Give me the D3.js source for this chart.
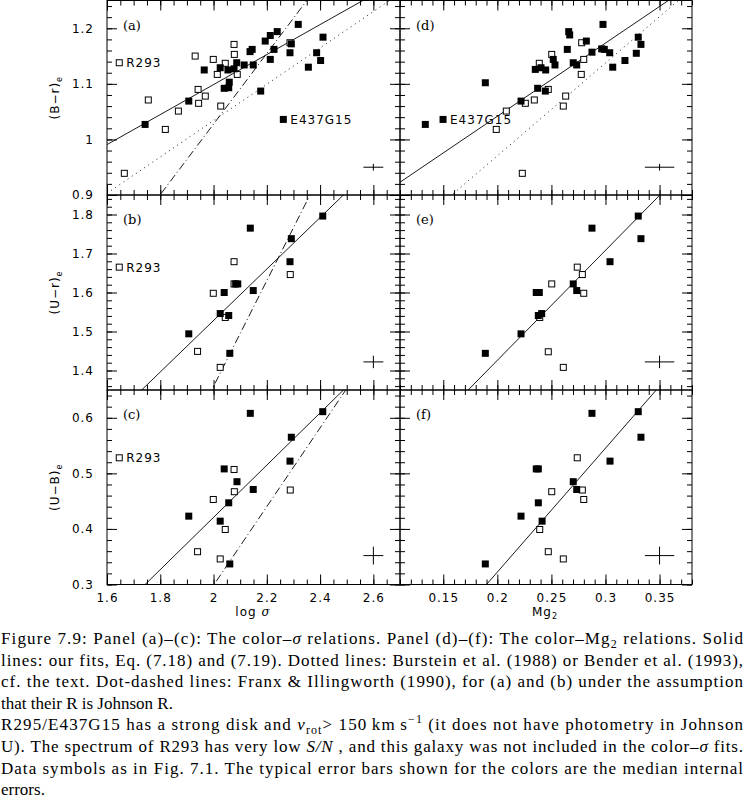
<!DOCTYPE html>
<html>
<head>
<script src="https://d3js.org/d3.v7.min.js"></script>
<style>
  body { margin: 0; background: #fff; }
  svg { display: block; }
  .tick text, .lbl { font-family: "DejaVu Sans", sans-serif; font-size: 12px; letter-spacing: 1px; fill: #000; }
  .tag { font-family: "DejaVu Serif", serif; font-size: 13px; }
  .caption { font-family: "Liberation Serif", serif; font-size: 17px; fill: #000; }
</style>
</head>
<body>
<svg width="745" height="805"></svg>
<script>
// ---- data ----
// panel (a): (B-r)e vs log sigma
var aFilled = [[1.743,1.027],[1.907,1.069],[1.965,1.125],[2.025,1.129],[2.040,1.092],[2.057,1.093],[2.059,1.103],
  [2.054,1.125],[2.077,1.127],[2.087,1.138],[2.115,1.134],[2.137,1.158],[2.145,1.162],[2.149,1.134],[2.177,1.087],
  [2.194,1.177],[2.213,1.187],[2.213,1.144],[2.227,1.162],[2.239,1.194],[2.287,1.156],[2.292,1.172],[2.318,1.207],
  [2.356,1.130],[2.387,1.156],[2.402,1.142],[2.411,1.184],[2.262,1.036]];
var aOpen = [[1.646,1.138],[1.665,0.939],[1.755,1.071],[1.819,1.018],[1.868,1.051],[1.931,1.150],[1.942,1.090],
  [1.944,1.065],[1.969,1.078],[1.999,1.144],[2.014,1.117],[2.027,1.060],[2.044,1.137],[2.077,1.171],[2.078,1.153],
  [2.089,1.117],[2.287,1.174]];
// panel (b): (U-r)e vs log sigma
var bFilled = [[1.907,1.494],[2.025,1.546],[2.040,1.600],[2.057,1.541],[2.061,1.444],[2.083,1.622],[2.091,1.622],
  [2.138,1.765],[2.149,1.605],[2.287,1.679],[2.292,1.738],[2.410,1.796]];
var bOpen = [[1.646,1.665],[1.940,1.449],[1.999,1.598],[2.025,1.408],[2.044,1.536],[2.077,1.679],[2.077,1.622],[2.288,1.646]];
// panel (c): (U-B)e vs log sigma
var cFilled = [[1.907,0.423],[2.025,0.414],[2.040,0.508],[2.057,0.447],[2.061,0.337],[2.088,0.485],[2.138,0.608],
  [2.149,0.471],[2.287,0.522],[2.292,0.565],[2.410,0.611]];
var cOpen = [[1.646,0.528],[1.940,0.359],[1.999,0.453],[2.025,0.346],[2.044,0.399],[2.077,0.507],[2.078,0.467],[2.288,0.470]];
// panel (d): (B-r)e vs Mg2
var dFilled = [[0.1334,1.027],[0.1498,1.036],[0.1889,1.102],[0.2219,1.069],[0.2351,1.126],[0.2373,1.092],[0.2404,1.129],
  [0.2444,1.087],[0.2447,1.125],[0.2517,1.144],[0.2533,1.134],[0.2647,1.162],[0.2660,1.194],[0.2669,1.188],[0.2702,1.138],
  [0.2734,1.134],[0.2823,1.177],[0.2875,1.157],[0.2965,1.163],[0.2977,1.207],[0.2989,1.162],[0.3039,1.156],[0.3067,1.130],
  [0.3180,1.142],[0.3285,1.155],[0.3303,1.184],[0.3328,1.171]];
var dOpen = [[0.1990,1.018],[0.2083,1.051],[0.2231,0.939],[0.2259,1.065],[0.2342,1.071],[0.2388,1.137],[0.2471,1.090],
  [0.2503,1.153],[0.2610,1.060],[0.2632,1.078],[0.2776,1.117],[0.2780,1.174],[0.2799,1.144]];
// panel (e): (U-r)e vs Mg2
var eFilled = [[0.1889,1.444],[0.2219,1.494],[0.2360,1.600],[0.2388,1.600],[0.2379,1.541],[0.2410,1.546],[0.2702,1.622],
  [0.2734,1.605],[0.2875,1.765],[0.3042,1.679],[0.3303,1.796],[0.3328,1.738]];
var eOpen = [[0.2392,1.536],[0.2471,1.448],[0.2503,1.622],[0.2610,1.408],[0.2739,1.665],[0.2786,1.646],[0.2799,1.598]];
// panel (f): (U-B)e vs Mg2
var fFilled = [[0.1889,0.337],[0.2219,0.423],[0.2360,0.508],[0.2379,0.508],[0.2379,0.447],[0.2414,0.414],[0.2702,0.485],
  [0.2734,0.471],[0.2875,0.608],[0.3042,0.522],[0.3303,0.611],[0.3328,0.565]];
var fOpen = [[0.2392,0.399],[0.2471,0.359],[0.2503,0.467],[0.2610,0.346],[0.2739,0.528],[0.2786,0.470],[0.2799,0.453]];

// fitted relations [slope, intercept]
var aSolid = [0.27, 0.5587], aDotted = [0.327, 0.3799], aDash = [0.635, -0.2424];
var bSolid = [0.66, 0.2082], bDash = [1.355, -1.3505];
var cSolid = [0.47, -0.5192], cDash = [0.708, -1.1174];
var dSolid = [1.318, 0.778], dDotted = [1.67, 0.6365];
var eSolid = [2.82, 0.8621];
var fSolid = [2.23, -0.1237];

// typical error bars [x, y, dx, dy]
var errSigma = [[2.6, 0.95, 0.0375, 0.006], [2.6, 1.422, 0.0375, 0.016], [2.6, 0.352, 0.0375, 0.016]];
var errMg = [[0.35, 0.95, 0.0136, 0.006], [0.35, 1.422, 0.0136, 0.016], [0.35, 0.352, 0.0136, 0.016]];

// axis ranges and tick labels
var sigmaDomain = [1.6, 2.7], mgDomain = [0.11, 0.38];
var brDomain = [0.9, 1.25], urDomain = [1.35, 1.85], ubDomain = [0.3, 0.65];
var sigmaTicks = [1.6, 1.8, 2, 2.2, 2.4, 2.6];
var mgTicks = [0.15, 0.2, 0.25, 0.3, 0.35];
var brTicks = [0.9, 1, 1.1, 1.2], urTicks = [1.4, 1.5, 1.6, 1.7, 1.8], ubTicks = [0.3, 0.4, 0.5, 0.6];
var rowTitles = ["(B\u2212r)", "(U\u2212r)", "(U\u2212B)"];
var panelTags = ["(a)", "(b)", "(c)", "(d)", "(e)", "(f)"];

// ---- layout ----
var svg = d3.select("svg");
var cols = [[107, 400], [400, 692]];
var rows = [[0.5, 195], [195, 390], [390, 584.5]];

function minorOf(dom, step) {
  var out = [];
  for (var v = Math.ceil(dom[0] / step - 1e-9); v * step <= dom[1] + 1e-9; v++) out.push(+(v * step).toFixed(4));
  return out;
}

var panels = [
  { c: 0, r: 0, xd: sigmaDomain, yd: brDomain, filled: aFilled, open: aOpen, lines: [[aSolid, null], [aDotted, "1,4"], [aDash, "8,3,1,3"]], err: errSigma[0] },
  { c: 0, r: 1, xd: sigmaDomain, yd: urDomain, filled: bFilled, open: bOpen, lines: [[bSolid, null], [bDash, "8,3,1,3"]], err: errSigma[1] },
  { c: 0, r: 2, xd: sigmaDomain, yd: ubDomain, filled: cFilled, open: cOpen, lines: [[cSolid, null], [cDash, "8,3,1,3"]], err: errSigma[2] },
  { c: 1, r: 0, xd: mgDomain, yd: brDomain, filled: dFilled, open: dOpen, lines: [[dSolid, null], [dDotted, "1,4"]], err: errMg[0] },
  { c: 1, r: 1, xd: mgDomain, yd: urDomain, filled: eFilled, open: eOpen, lines: [[eSolid, null]], err: errMg[1] },
  { c: 1, r: 2, xd: mgDomain, yd: ubDomain, filled: fFilled, open: fOpen, lines: [[fSolid, null]], err: errMg[2] }
];
var yTickSets = [brTicks, urTicks, ubTicks];

panels.forEach(function(p, i) {
  var x = d3.scaleLinear().domain(p.xd).range(cols[p.c]);
  var y = d3.scaleLinear().domain(p.yd).range([rows[p.r][1], rows[p.r][0]]);
  var x0 = cols[p.c][0], x1 = cols[p.c][1], y0 = rows[p.r][0], y1 = rows[p.r][1];
  var xMajor = p.c === 0 ? sigmaTicks : mgTicks;
  var xMinor = p.c === 0 ? minorOf(p.xd, 0.05) : minorOf(p.xd, 0.01);
  var yMajor = yTickSets[p.r];
  var yMinor = minorOf(p.yd, 0.02);
  var fmt = function(d) { return String(d); };

  var g = svg.append("g");
  g.append("clipPath").attr("id", "clip" + i).append("rect")
    .attr("x", x0).attr("y", y0).attr("width", x1 - x0).attr("height", y1 - y0);

  // ticks on all four sides, pointing inwards
  g.append("g").attr("transform", "translate(0," + y1 + ")")
    .call(d3.axisBottom(x).tickValues(xMinor).tickSize(-5).tickFormat(""));
  g.append("g").attr("transform", "translate(0," + y1 + ")")
    .call(d3.axisBottom(x).tickValues(xMajor).tickSize(-10).tickPadding(9).tickFormat(p.r === 2 ? fmt : ""));
  g.append("g").attr("transform", "translate(0," + y0 + ")")
    .call(d3.axisTop(x).tickValues(xMinor).tickSize(-5).tickFormat(""));
  g.append("g").attr("transform", "translate(0," + y0 + ")")
    .call(d3.axisTop(x).tickValues(xMajor).tickSize(-10).tickFormat(""));
  g.append("g").attr("transform", "translate(" + x0 + ",0)")
    .call(d3.axisLeft(y).tickValues(yMinor).tickSize(-5).tickFormat(""));
  g.append("g").attr("transform", "translate(" + x0 + ",0)")
    .call(d3.axisLeft(y).tickValues(yMajor).tickSize(-10).tickPadding(13).tickFormat(p.c === 0 ? fmt : ""));
  g.append("g").attr("transform", "translate(" + x1 + ",0)")
    .call(d3.axisRight(y).tickValues(yMinor).tickSize(-5).tickFormat(""));
  g.append("g").attr("transform", "translate(" + x1 + ",0)")
    .call(d3.axisRight(y).tickValues(yMajor).tickSize(-10).tickFormat(""));
  g.selectAll(".domain").remove();
  g.selectAll(".tick line").attr("stroke", "#000");

  // frame
  g.append("rect").attr("x", x0).attr("y", y0).attr("width", x1 - x0).attr("height", y1 - y0)
    .attr("fill", "none").attr("stroke", "#000");

  // fit lines
  p.lines.forEach(function(L) {
    var s = L[0];
    g.append("path")
      .attr("clip-path", "url(#clip" + i + ")")
      .attr("d", d3.line().x(function(d) { return x(d); }).y(function(d) { return y(s[0] * d + s[1]); })(p.xd))
      .attr("fill", "none").attr("stroke", "#000").attr("stroke-width", 0.9)
      .attr("stroke-dasharray", L[1]);
  });

  // points
  g.selectAll(".op").data(p.open).enter().append("rect")
    .attr("x", function(d) { return x(d[0]) - 3; }).attr("y", function(d) { return y(d[1]) - 3; })
    .attr("width", 6).attr("height", 6).attr("fill", "#fff").attr("stroke", "#000").attr("stroke-width", 1);
  g.selectAll(".fp").data(p.filled).enter().append("rect")
    .attr("x", function(d) { return x(d[0]) - 3.5; }).attr("y", function(d) { return y(d[1]) - 3.5; })
    .attr("width", 7).attr("height", 7).attr("fill", "#000");

  // error bar
  var e = p.err;
  g.append("line").attr("x1", x(e[0] - e[2])).attr("x2", x(e[0] + e[2])).attr("y1", y(e[1])).attr("y2", y(e[1])).attr("stroke", "#000");
  g.append("line").attr("x1", x(e[0])).attr("x2", x(e[0])).attr("y1", y(e[1] - e[3])).attr("y2", y(e[1] + e[3])).attr("stroke", "#000");

  // panel tag
  g.append("text").attr("class", "tag").attr("x", x0 + 16).attr("y", y0 + 29).text(panelTags[i]);

  // named objects
  if (p.c === 0) {
    var r293 = p.open[0];
    g.append("text").attr("class", "lbl").attr("x", x(r293[0]) + 7).attr("y", y(r293[1]) + 4.5).text("R293");
  }
  if (p.r === 0) {
    var eg = p.c === 0 ? p.filled[p.filled.length - 1] : p.filled[1];
    g.append("text").attr("class", "lbl").attr("x", x(eg[0]) + 7).attr("y", y(eg[1]) + 4.5).text("E437G15");
  }
});

// row titles
rowTitles.forEach(function(t, r) {
  var cy = (rows[r][0] + rows[r][1]) / 2;
  var tx = svg.append("text").attr("class", "lbl")
    .attr("transform", "translate(59," + cy + ") rotate(-90)").attr("text-anchor", "middle");
  tx.append("tspan").text(t);
  tx.append("tspan").attr("font-size", "8px").attr("baseline-shift", "-3").text("e");
});

// x titles
var xt1 = svg.append("text").attr("class", "lbl").attr("x", 253).attr("y", 616).attr("text-anchor", "middle");
xt1.append("tspan").text("log ");
xt1.append("tspan").attr("font-family", "DejaVu Serif").attr("font-style", "italic").text("\u03c3");
var xt2 = svg.append("text").attr("class", "lbl").attr("x", 545).attr("y", 616).attr("text-anchor", "middle");
xt2.append("tspan").text("Mg");
xt2.append("tspan").attr("font-size", "8px").attr("baseline-shift", "-3").text("2");

// caption
var captionLines = [
  [[["Figure 7.9: Panel (a)\u2013(c): The color\u2013"], ["\u03c3", "it"], [" relations. Panel (d)\u2013(f): The color\u2013Mg"], ["2", "sub"], [" relations. Solid"]], true],
  [[["lines: our fits, Eq. (7.18) and (7.19). Dotted lines: Burstein et al. (1988) or Bender et al. (1993),"]], true],
  [[["cf. the text. Dot-dashed lines: Franx & Illingworth (1990), for (a) and (b) under the assumption"]], true],
  [[["that their R is Johnson R."]], false],
  [[["R295/E437G15 has a strong disk and "], ["v", "it"], ["rot", "sub"], ["> 150\u2009km\u2009s"], ["\u22121", "sup"], [" (it does not have photometry in Johnson"]], true],
  [[["U). The spectrum of R293 has very low "], ["S/N", "it"], [" , and this galaxy was not included in the color\u2013"], ["\u03c3", "it"], [" fits."]], true],
  [[["Data symbols as in Fig. 7.1. The typical error bars shown for the colors are the median internal"]], true],
  [[["errors."]], false]
];
captionLines.forEach(function(L, i) {
  var t = svg.append("text").attr("class", "caption").attr("x", 1).attr("y", 644 + i * 21.6);
  if (L[1]) t.attr("textLength", 742).attr("lengthAdjust", "spacing");
  L[0].forEach(function(seg) {
    var ts = t.append("tspan").text(seg[0]);
    if (seg[1] === "it") ts.attr("font-style", "italic");
    if (seg[1] === "sub") ts.attr("font-size", "12px").attr("baseline-shift", "-4");
    if (seg[1] === "sup") ts.attr("font-size", "12px").attr("baseline-shift", "7");
  });
});
</script>
</body>
</html>
